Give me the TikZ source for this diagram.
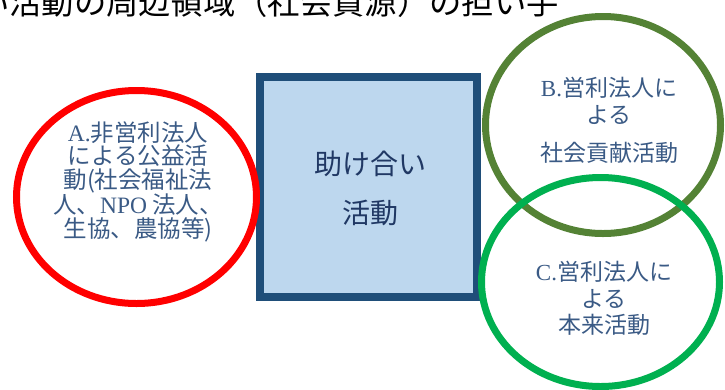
\documentclass[tikz,border=0pt]{standalone}
\usepackage{fontspec}
\usetikzlibrary{shapes.geometric}
\newfontfamily\jp{Noto Sans CJK JP}
\newfontfamily\lat{Liberation Serif}
\definecolor{redA}{HTML}{FF0000}
\definecolor{oliveB}{HTML}{548235}
\definecolor{greenC}{HTML}{00B050}
\definecolor{boxline}{HTML}{1F4E79}
\definecolor{boxfill}{HTML}{BDD7EE}
\definecolor{boxtext}{HTML}{203864}
\definecolor{circtext}{HTML}{3A5A85}
\begin{document}
\begin{tikzpicture}[x=1pt,y=-1pt,
  ring/.style={ellipse, draw, line width=7pt, inner sep=0pt},
  circlabel/.style={align=center, text=circtext, inner sep=0pt,
    font=\jp\fontsize{23.5}{23.5}\selectfont},
  boxlabel/.style={align=center, text=boxtext, inner sep=0pt,
    font=\jp\fontsize{28}{49}\selectfont}]
\useasboundingbox (0,0) rectangle (725,389);
\clip (0,0) rectangle (725,389);
\node[anchor=base west, inner sep=0pt, font=\jp\fontsize{32.3}{33}\selectfont, text=black] (title) at (-23,14) {い活動の周辺領域（社会資源）の担い手};
\node[draw=boxline, fill=boxfill, line width=8pt, minimum width=217pt, minimum height=220pt, inner sep=0pt] (box) at (368.5,187) {};
\node[ring, draw=redA, minimum width=240pt, minimum height=213pt] (A) at (136.5,197) {};
\node[ring, draw=oliveB, minimum width=235pt, minimum height=217pt] (B) at (603,125) {};
\node[ring, draw=greenC, minimum width=238pt, minimum height=209pt] (C) at (600.5,282) {};
\node[boxlabel] (boxt) at (370,188) {助け合い\\活動};
\node[circlabel] (At) at (138,181.5) {{\lat A.}非営利法人\\による公益活\\動({\lat }社会福祉法\\人、{\lat NPO} 法人、\\生協、農協等)};
\node[circlabel, font=\jp\fontsize{23}{27}\selectfont] (Bt) at (609,120.5) {{\lat B.}営利法人に\\よる\\[11pt]社会貢献活動};
\node[circlabel, font=\jp\fontsize{23}{26.5}\selectfont] (Ct) at (604,298.5) {{\lat C.}営利法人に\\よる\\本来活動};
\end{tikzpicture}
\end{document}
